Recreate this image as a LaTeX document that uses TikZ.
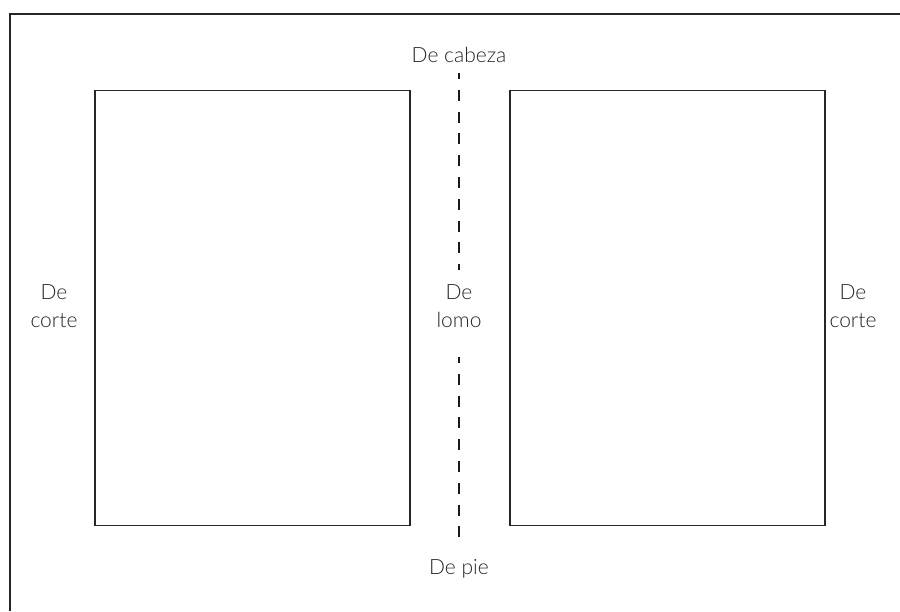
\documentclass[tikz,border=0pt]{standalone}
\usepackage{fontspec}
\setmainfont{Lato Light}
\begin{document}
\begin{tikzpicture}[x=1pt,y=-1pt,
  page/.style={draw=black!85,line width=1.3pt},
  frame/.style={draw=black!85,line width=2pt},
  fold/.style={draw=black!90,line width=1.4pt,dash pattern=on 11pt off 10.8pt,dash phase=5pt},
  lbl/.style={font=\fontsize{21}{28}\selectfont,text=black!85,align=center,anchor=base,inner sep=0pt}]
\useasboundingbox (0,0) rectangle (900,611);
\fill[white] (0,0) rectangle (900,611);
% outer sheet border
\draw[frame] (10,611) -- (10,13.5) -- (900,13.5);
% the two pages of the spread
\node[page,minimum width=315pt,minimum height=435pt,inner sep=0pt,anchor=north west] (left) at (94.3,89.5) {};
\node[page,minimum width=315pt,minimum height=435pt,inner sep=0pt,anchor=north west] (right) at (509.3,89.5) {};
% margin labels (base anchor sits on the last line)
\node[lbl] (cabeza) at (459,62) {De cabeza};
\node[lbl] (lomo) at (459,327.5) {De\\lomo};
\node[lbl] (pie) at (459,574) {De pie};
\node[lbl] (corteL) at (54,327.5) {De\\corte};
\node[lbl] (corteR) at (853,327.5) {De\\corte};
% spine fold line
\coordinate (f1) at (459,73);
\coordinate (f2) at (459,270);
\coordinate (f3) at (459,357);
\coordinate (f4) at (459,545);
\draw[fold] (f1) -- (f2);
\draw[fold] (f3) -- (f4);
\end{tikzpicture}
\end{document}
